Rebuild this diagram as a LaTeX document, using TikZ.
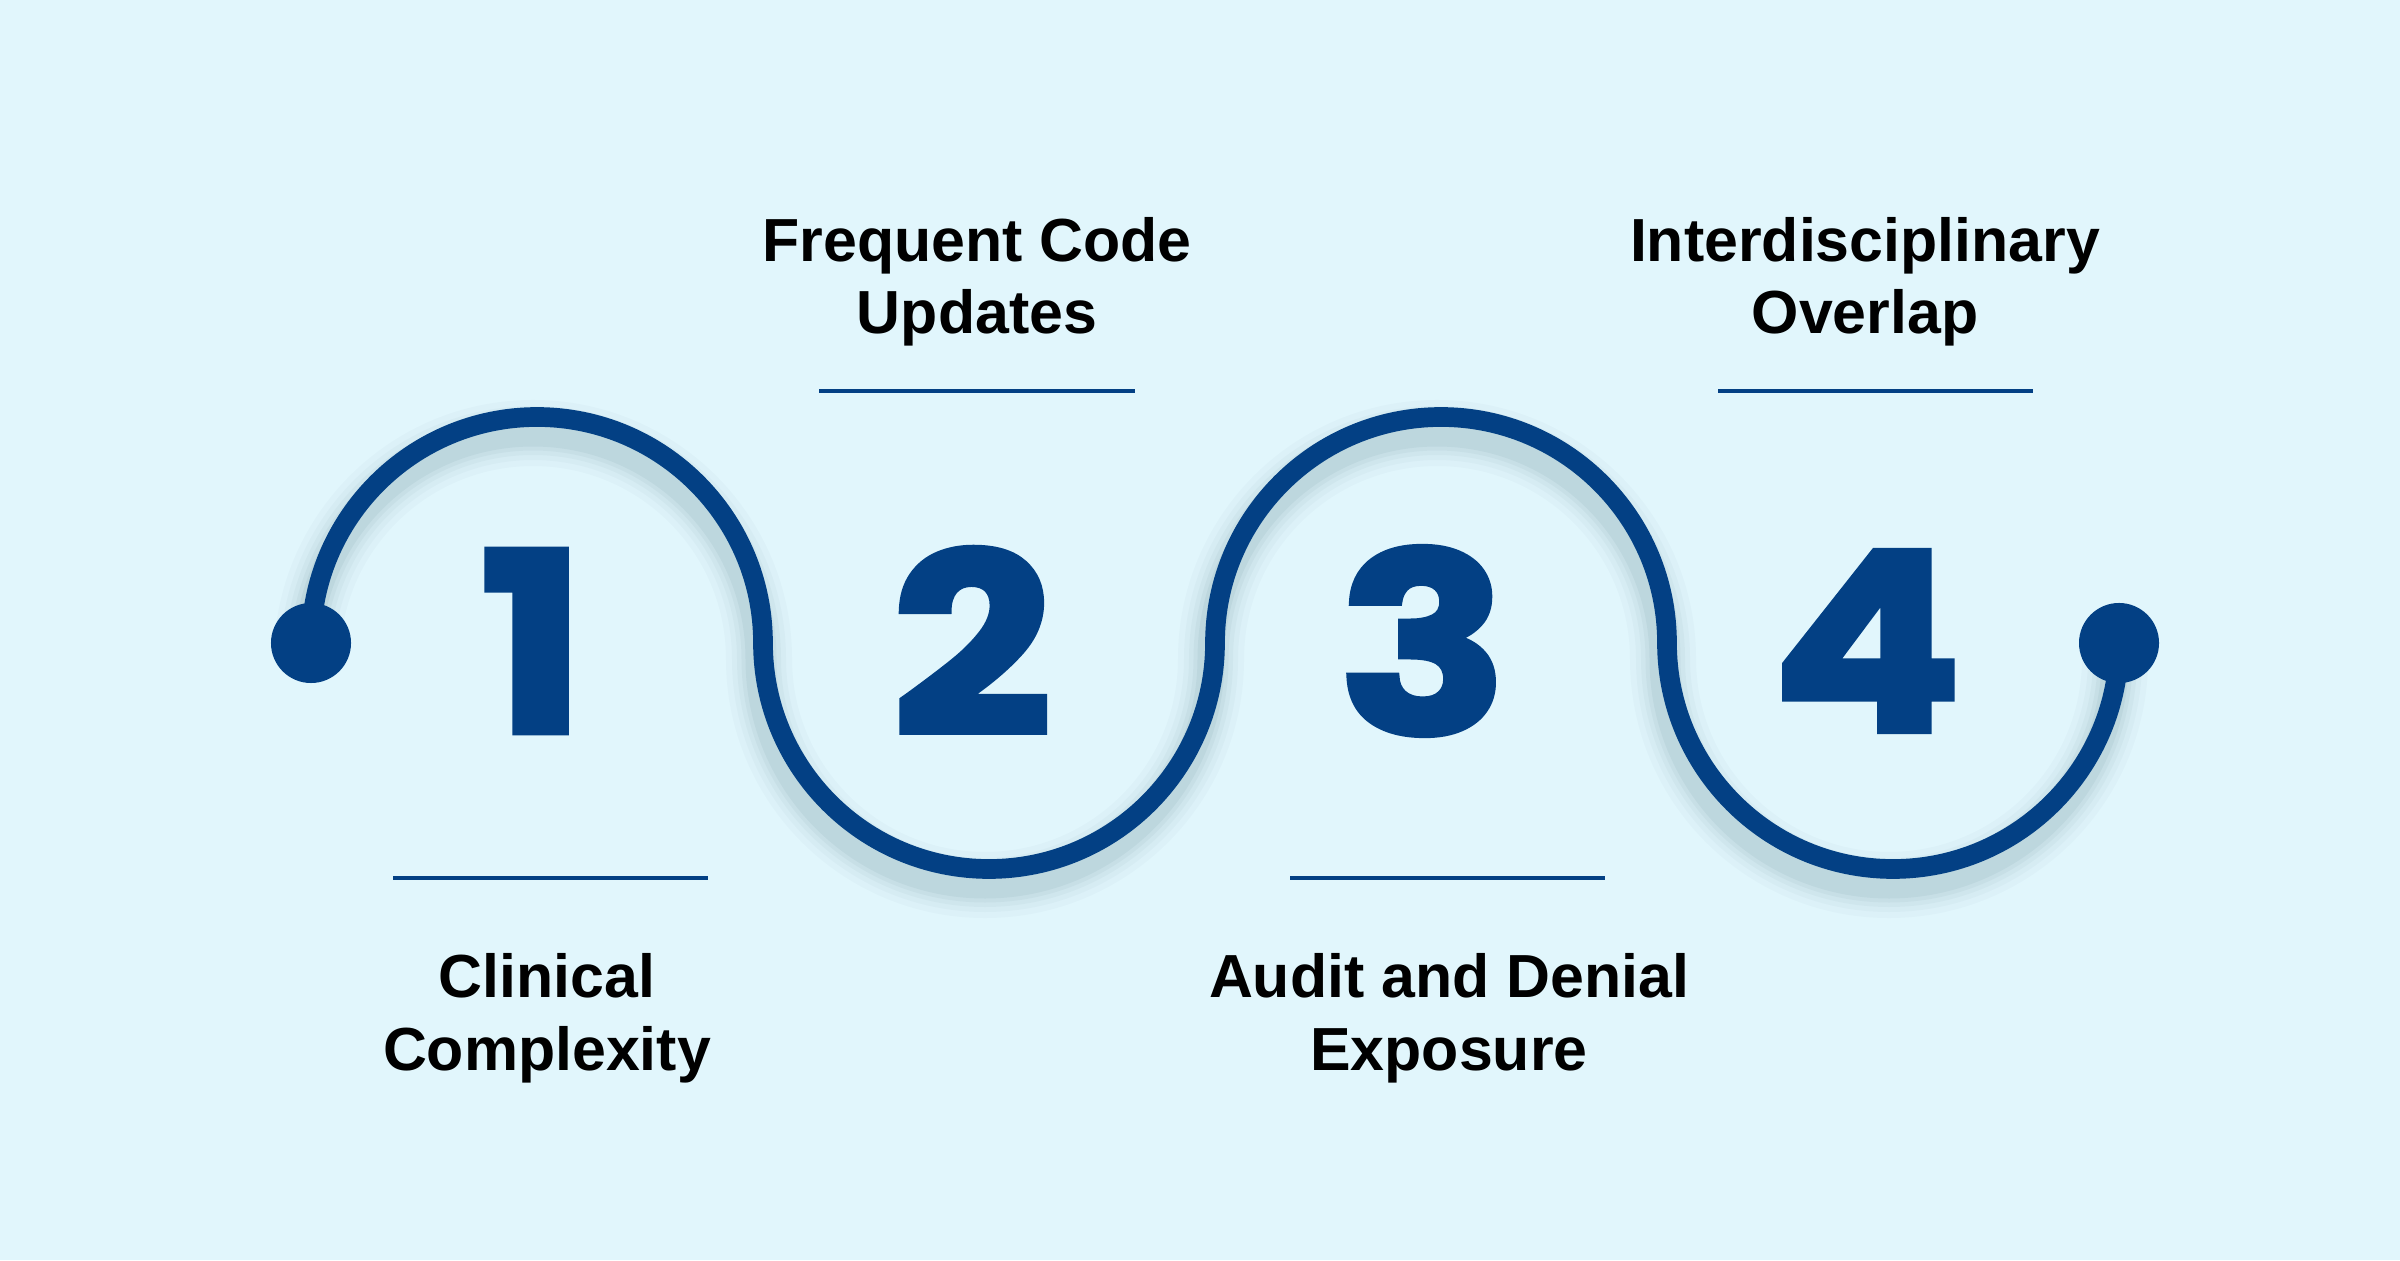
\documentclass[tikz,border=0pt]{standalone}
\usepackage{fontspec}
\setmainfont{Liberation Sans}
\newfontfamily\digitfont{Poppins}[FakeBold=2.5,FakeStretch=1.13]
\definecolor{bgc}{RGB}{225,246,252}
\definecolor{navy}{RGB}{3,64,132}
\definecolor{shadowc}{RGB}{70,110,125}
\tikzset{
  wave/.style={draw=navy, line width=5.6pt},
  enddot/.style={circle, fill=navy, minimum size=0.8cm, inner sep=0pt},
  digit/.style={text=navy, inner sep=0pt, font=\digitfont\bfseries\fontsize{71}{71}\selectfont},
  label/.style={align=center, inner sep=0pt, anchor=base, font=\bfseries\fontsize{17.3}{20.5}\selectfont},
  rule/.style={draw=navy, line width=1.4pt},
}
\newcommand\wavepth{(311,617) arc[start angle=180,end angle=0,radius=226]
  arc[start angle=180,end angle=360,radius=226]
  arc[start angle=180,end angle=0,radius=226]
  arc[start angle=180,end angle=360,radius=226]}
\begin{document}
\begin{tikzpicture}[x=0.01cm,y=0.01cm]
\fill[bgc] (0,0) rectangle (2400,1260);
\useasboundingbox (0,0) rectangle (2400,1260);
% soft shadow
\begin{scope}[shift={(-4,-16)}]
\foreach \w/\o in {66/0.03,54/0.035,44/0.045,35/0.055,27/0.07}{
  \draw[line width=\w*0.2845pt, shadowc, opacity=\o] \wavepth;
}
\end{scope}
% wave
\draw[wave] \wavepth;
\node[enddot] (d1) at (311,617) {};
\node[enddot] (d2) at (2119,617) {};
% digits
\node[digit] (n1) at (533,619) {1};
\node[digit] (n2) at (972,619) {2};
\node[digit] (n3) at (1423,619) {3};
\node[digit] (n4) at (1867,619) {4};
% labels (anchor base = baseline of last line)
\node[label] (l2) at (977,926) {Frequent Code\\Updates};
\node[label] (l4) at (1865,926) {Interdisciplinary\\Overlap};
\node[label] (l1) at (547,190) {Clinical\\Complexity};
\node[label] (l3) at (1449,190) {Audit and Denial\\Exposure};
% rules
\coordinate (r2a) at (819,869); \coordinate (r2b) at (1135,869);
\coordinate (r4a) at (1718,869); \coordinate (r4b) at (2033,869);
\coordinate (r1a) at (393,382); \coordinate (r1b) at (708,382);
\coordinate (r3a) at (1290,382); \coordinate (r3b) at (1605,382);
\draw[rule] (r2a) -- (r2b);
\draw[rule] (r4a) -- (r4b);
\draw[rule] (r1a) -- (r1b);
\draw[rule] (r3a) -- (r3b);
\end{tikzpicture}
\end{document}
